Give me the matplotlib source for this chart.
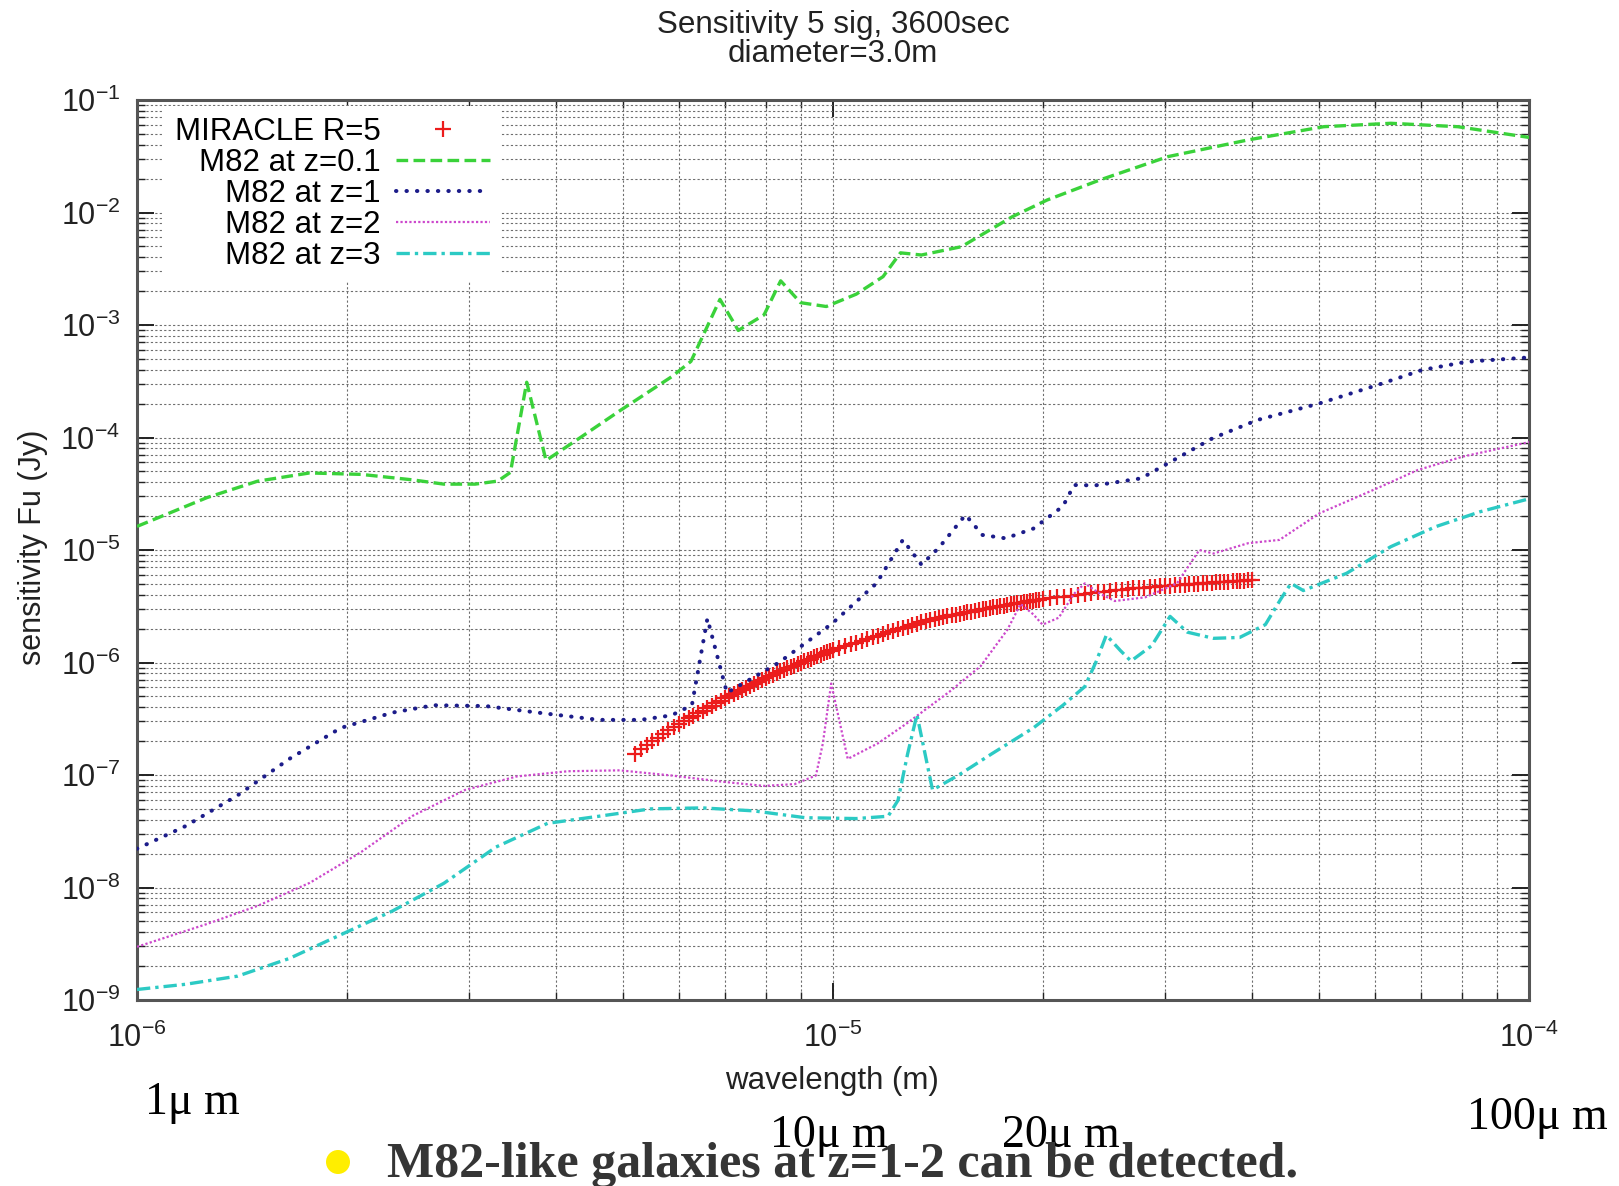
import numpy as np
import matplotlib
matplotlib.use("Agg")
import matplotlib.pyplot as plt
from matplotlib.patches import Ellipse
from matplotlib.ticker import LogLocator, NullFormatter

plt.rcParams['font.family'] = ['Liberation Sans', 'DejaVu Sans']

# MIRACLE R=5 sensitivity (wavelength in micron, flux in Jy)
wl_miracle = [5.2, 5.3, 5.4, 5.5, 5.6, 5.7, 5.8, 5.9, 6.0, 6.1, 6.2, 6.3, 6.4, 6.5,
              6.6, 6.7, 6.8, 6.9, 7.0, 7.1, 7.2, 7.3, 7.4, 7.5, 7.6, 7.7, 7.8, 7.9,
              8.0, 8.1, 8.2, 8.3, 8.4, 8.5, 8.6, 8.7, 8.8, 8.9, 9.0, 9.1, 9.2, 9.3,
              9.4, 9.5, 9.6, 9.7, 9.8, 9.9, 10.0,
              10.2, 10.4, 10.6, 10.8, 11.0, 11.2, 11.4, 11.6, 11.8, 12.0, 12.2,
              12.4, 12.6, 12.8, 13.0, 13.2, 13.4, 13.6, 13.8, 14.0, 14.2, 14.4,
              14.6, 14.8, 15.0, 15.2, 15.4, 15.6, 15.8, 16.0, 16.2, 16.4, 16.6,
              16.8, 17.0, 17.2, 17.4, 17.6, 17.8, 18.0, 18.2, 18.4, 18.6, 18.8,
              19.0, 19.2, 19.4, 19.6, 19.8, 20.0,
              20.5, 21.0, 21.5, 22.0, 22.5, 23.0, 23.5, 24.0, 24.5, 25.0, 25.5,
              26.0, 26.5, 27.0, 27.5, 28.0, 28.5, 29.0, 29.5, 30.0, 30.5, 31.0,
              31.5, 32.0, 32.5, 33.0, 33.5, 34.0, 34.5, 35.0, 35.5, 36.0, 36.5,
              37.0, 37.5, 38.0, 38.5, 39.0, 39.5, 40.0]
f_miracle = [1.55e-7, 1.69e-7, 1.83e-7, 1.99e-7, 2.15e-7, 2.33e-7, 2.51e-7, 2.68e-7,
             2.85e-7, 3.01e-7, 3.18e-7, 3.36e-7, 3.54e-7, 3.73e-7, 3.93e-7, 4.14e-7,
             4.35e-7, 4.57e-7, 4.79e-7, 5.00e-7, 5.22e-7, 5.45e-7, 5.69e-7, 5.93e-7,
             6.18e-7, 6.44e-7, 6.70e-7, 6.97e-7, 7.24e-7, 7.53e-7, 7.82e-7, 8.08e-7,
             8.34e-7, 8.60e-7, 8.87e-7, 9.13e-7, 9.40e-7, 9.67e-7, 9.95e-7,
             1.023e-6, 1.052e-6, 1.082e-6, 1.112e-6, 1.143e-6, 1.175e-6, 1.205e-6,
             1.236e-6, 1.262e-6, 1.288e-6,
             1.340e-6, 1.393e-6, 1.447e-6, 1.504e-6, 1.560e-6, 1.618e-6, 1.677e-6,
             1.735e-6, 1.792e-6, 1.849e-6, 1.907e-6, 1.966e-6, 2.026e-6, 2.087e-6,
             2.148e-6, 2.209e-6, 2.270e-6, 2.329e-6, 2.386e-6, 2.443e-6, 2.487e-6,
             2.531e-6, 2.574e-6, 2.617e-6, 2.660e-6, 2.705e-6, 2.750e-6, 2.795e-6,
             2.840e-6, 2.884e-6, 2.926e-6, 2.969e-6, 3.009e-6, 3.046e-6, 3.083e-6,
             3.123e-6, 3.164e-6, 3.203e-6, 3.242e-6, 3.281e-6, 3.318e-6, 3.355e-6,
             3.392e-6, 3.429e-6, 3.467e-6, 3.506e-6, 3.545e-6, 3.580e-6, 3.610e-6,
             3.640e-6,
             3.707e-6, 3.784e-6, 3.855e-6, 3.926e-6, 4.0e-6, 4.074e-6, 4.13e-6,
             4.198e-6, 4.256e-6, 4.315e-6, 4.375e-6, 4.426e-6, 4.487e-6, 4.55e-6,
             4.592e-6, 4.634e-6, 4.667e-6, 4.71e-6, 4.742e-6, 4.786e-6, 4.819e-6,
             4.864e-6, 4.898e-6, 4.932e-6, 4.966e-6, 5.0e-6, 5.035e-6, 5.058e-6,
             5.093e-6, 5.117e-6, 5.152e-6, 5.176e-6, 5.2e-6, 5.236e-6, 5.26e-6,
             5.284e-6, 5.309e-6, 5.333e-6, 5.37e-6, 5.395e-6]

# M82 at z=0.1
wl_z01 = [1.0, 1.26, 1.49, 1.77, 2.10, 2.49, 2.76, 3.06, 3.30, 3.44, 3.63, 3.87,
          4.31, 4.94, 5.86, 6.25, 6.88, 7.31, 7.96, 8.41, 8.98, 9.78, 10.8, 11.8,
          12.5, 13.4, 15.3, 18.1, 20.3, 24.2, 30.3, 39.5, 50.7, 63.3, 79.0, 100]
f_z01 = [1.62e-5, 2.92e-5, 4.09e-5, 4.84e-5, 4.7e-5, 4.2e-5, 3.85e-5, 3.85e-5,
         4.1e-5, 4.9e-5, 3.1e-4, 6.25e-5, 9.75e-5, 1.73e-4, 3.46e-4, 4.75e-4,
         1.69e-3, 8.95e-4, 1.23e-3, 2.47e-3, 1.58e-3, 1.46e-3, 1.88e-3, 2.69e-3,
         4.38e-3, 4.19e-3, 4.97e-3, 9.18e-3, 1.29e-2, 1.95e-2, 3.14e-2, 4.42e-2,
         5.79e-2, 6.21e-2, 5.79e-2, 4.65e-2]

# M82 at z=1
wl_z1 = [1.0, 1.175, 1.395, 1.655, 1.962, 2.33, 2.67, 3.17, 3.76, 4.61, 5.29, 5.86,
         6.27, 6.60, 7.04, 8.35, 9.97, 11.55, 12.6, 13.4, 14.2, 15.5, 16.4, 17.7,
         19.4, 21.4, 22.2, 23.8, 27.7, 30.3, 35.1, 40.7, 50.0, 60.6, 70.2, 81.4, 100]
f_z1 = [2.21e-8, 3.52e-8, 6.6e-8, 1.39e-7, 2.62e-7, 3.59e-7, 4.17e-7, 4.1e-7,
        3.59e-7, 3.09e-7, 3.09e-7, 3.39e-7, 4.17e-7, 2.46e-6, 5.38e-7, 9.93e-7,
        2.22e-6, 5.06e-6, 1.23e-5, 7.4e-6, 1.05e-5, 2.05e-5, 1.36e-5, 1.27e-5,
        1.55e-5, 2.45e-5, 3.78e-5, 3.75e-5, 4.33e-5, 5.9e-5, 9.84e-5, 1.43e-4,
        2.01e-4, 2.93e-4, 3.98e-4, 4.72e-4, 5.15e-4]

# M82 at z=2
wl_z2 = [1.0, 1.258, 1.493, 1.771, 2.10, 2.49, 2.96, 3.51, 4.16, 4.94, 5.86, 6.95,
         7.96, 8.81, 9.45, 9.67, 9.94, 10.5, 11.6, 12.8, 14.7, 16.3, 17.8, 18.6,
         19.4, 20.0, 21.1, 22.2, 23.0, 24.2, 25.4, 28.1, 31.2, 33.6, 35.2, 39.5,
         43.8, 50.0, 59.7, 69.2, 80.3, 100]
f_z2 = [2.97e-9, 4.72e-9, 6.9e-9, 1.1e-8, 2.07e-8, 4.34e-8, 7.36e-8, 9.7e-8,
        1.08e-7, 1.1e-7, 9.9e-8, 8.7e-8, 8.0e-8, 8.3e-8, 9.9e-8, 1.91e-7, 6.5e-7,
        1.39e-7, 1.91e-7, 2.91e-7, 5.5e-7, 9.3e-7, 1.95e-6, 3.31e-6, 2.68e-6,
        2.17e-6, 2.5e-6, 4.08e-6, 5.05e-6, 4.08e-6, 3.52e-6, 3.8e-6, 5.05e-6,
        1.0e-5, 9.3e-6, 1.15e-5, 1.23e-5, 2.12e-5, 3.41e-5, 5.14e-5, 6.76e-5, 9.1e-5]

# M82 at z=3
wl_z3 = [1.0, 1.175, 1.395, 1.655, 1.962, 2.33, 2.76, 3.28, 3.89, 4.61, 5.47, 6.49,
         7.69, 9.13, 10.8, 12.0, 12.4, 12.8, 13.2, 13.9, 15.2, 16.9, 19.4, 21.4,
         23.0, 23.9, 24.7, 25.9, 26.8, 28.7, 30.5, 32.3, 35.2, 38.4, 41.8, 44.0,
         45.5, 47.4, 54.7, 63.3, 73.4, 85.1, 100]
f_z3 = [1.24e-9, 1.38e-9, 1.63e-9, 2.34e-9, 3.8e-9, 6.2e-9, 1.09e-8, 2.29e-8,
        3.72e-8, 4.3e-8, 5.0e-8, 5.1e-8, 4.8e-8, 4.17e-8, 4.1e-8, 4.3e-8, 5.96e-8,
        1.54e-7, 3.44e-7, 7.36e-8, 1.01e-7, 1.54e-7, 2.62e-7, 4.17e-7, 6.1e-7,
        1.03e-6, 1.75e-6, 1.27e-6, 1.03e-6, 1.41e-6, 2.57e-6, 1.86e-6, 1.64e-6,
        1.67e-6, 2.17e-6, 3.67e-6, 5.05e-6, 4.36e-6, 6.21e-6, 1.07e-5, 1.61e-5,
        2.19e-5, 2.85e-5]

um = 1e-6

fig = plt.figure(figsize=(16.19, 11.86), dpi=100)
ax = fig.add_axes([137 / 1619, 186 / 1186, 1392 / 1619, 900 / 1186])
ax.set_xscale('log')
ax.set_yscale('log')

ax.plot(np.array(wl_miracle) * um, f_miracle, linestyle='none', marker='+',
        markersize=11, markeredgewidth=1.6, color='#ec1c1c', label='MIRACLE R=5', zorder=3)
ax.plot(np.array(wl_z01) * um, f_z01, color='#3ad23a', lw=2.4,
        linestyle=(0, (3.5, 1.6)), label='M82 at z=0.1', zorder=4)
ax.plot(np.array(wl_z1) * um, f_z1, color='#1c1c8a', lw=2.9, dash_capstyle='round',
        linestyle=(0, (0.1, 2.5)), label='M82 at z=1', zorder=4)
ax.plot(np.array(wl_z2) * um, f_z2, color='#cc48cc', lw=1.6,
        linestyle=(0, (1, 1)), label='M82 at z=2', zorder=4)
ax.plot(np.array(wl_z3) * um, f_z3, color='#2ccac4', lw=2.4,
        linestyle=(0, (4, 1.5, 1, 1.5)), label='M82 at z=3', zorder=4)

ax.set_xlim(1e-6, 1e-4)
ax.set_ylim(1e-9, 1e-1)
ax.xaxis.set_major_locator(LogLocator(base=10, numticks=10))
ax.xaxis.set_minor_locator(LogLocator(base=10, subs=np.arange(2, 10), numticks=20))
ax.yaxis.set_major_locator(LogLocator(base=10, numticks=20))
ax.yaxis.set_minor_locator(LogLocator(base=10, subs=np.arange(2, 10), numticks=40))
ax.xaxis.set_minor_formatter(NullFormatter())
ax.yaxis.set_minor_formatter(NullFormatter())

ax.set_axisbelow(True)
ax.grid(True, which='both', color='#6e6e6e', linestyle=(0, (2, 2)), linewidth=0.8)
ax.tick_params(which='both', direction='in', top=True, right=True, colors='#222222')
ax.tick_params(which='major', length=12, width=1.4, labelsize=22)
ax.tick_params(axis='y', which='major', pad=12)
ax.tick_params(axis='x', which='major', pad=16)
ax.tick_params(which='minor', length=6, width=1.0)
for s in ax.spines.values():
    s.set_linewidth(2.2)
    s.set_color('#555555')

ax.set_title("Sensitivity 5 sig, 3600sec\ndiameter=3.0m", fontsize=22.6,
             linespacing=1.0, pad=27, color='#222222')
fig.text(33 / 1619, 1 - 547 / 1186, "sensitivity Fu (Jy)", rotation=90,
         ha='center', va='center', fontsize=22, color='#222222')
fig.text(832 / 1619, 1 - 1081 / 1186, "wavelength (m)", ha='center', va='center',
         fontsize=22.5, color='#222222')

leg = ax.legend(loc='upper right', bbox_to_anchor=(0.2615, 0.993), borderaxespad=0,
                markerfirst=False, fontsize=22.5, handlelength=3.0, handletextpad=0.5,
                labelspacing=0.03, borderpad=0.35, frameon=True, fancybox=False,
                edgecolor='none', facecolor='white', framealpha=1)
leg.set_zorder(10)

# annotations below the chart
serif = 'Liberation Serif'
fig.text(145 / 1619, 1 - 1103 / 1186, "1μ m", family=serif, fontsize=33,
         ha='left', va='center')
fig.text(829 / 1619, 1 - 1136 / 1186, "10μ m", family=serif, fontsize=33,
         ha='center', va='center')
fig.text(1061 / 1619, 1 - 1136 / 1186, "20μ m", family=serif, fontsize=33,
         ha='center', va='center')
fig.text(1537 / 1619, 1 - 1118 / 1186, "100μ m", family=serif, fontsize=33,
         ha='center', va='center')

fig.patches.append(Ellipse((338 / 1619, 1 - 1162 / 1186), 24 / 1619, 24 / 1186,
                           transform=fig.transFigure, facecolor='#ffee00',
                           edgecolor='none'))
fig.text(387 / 1619, 1 - 1177 / 1186, "M82-like galaxies at z=1-2 can be detected.",
         family=serif, fontweight='bold', fontsize=36, color='#353535',
         ha='left', va='baseline')

fig.savefig('out.png', dpi=100)
